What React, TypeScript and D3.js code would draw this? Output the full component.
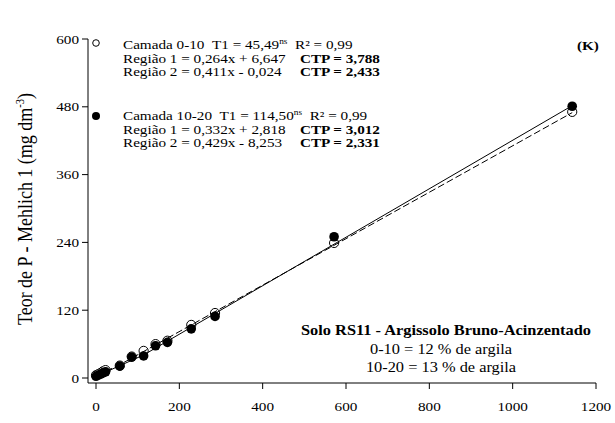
import React from "react";
import * as d3 from "d3";

// P doses (x) and Mehlich-1 P read back per layer
const doses = [0, 5.7, 11.4, 17.1, 22.9, 57.1, 85.7, 114.3, 142.9, 171.4, 228.6, 285.7, 571.4, 1142.9];
const layer0_10 = [5, 7, 9, 12, 14, 22, 38, 48, 60, 66, 94, 115, 239, 471];
const layer10_20 = [3, 5, 7, 9, 11, 21, 37, 39, 57, 63, 87, 109, 250, 481];

const xTicks = [0, 200, 400, 600, 800, 1000, 1200];
const yTicks = [0, 120, 240, 360, 480, 600];

// two-segment fits
const fit0_10 = { a1: 0.264, b1: 6.647, a2: 0.411, b2: -0.024, t1: 45.49 };
const fit10_20 = { a1: 0.332, b1: 2.818, a2: 0.429, b2: -8.253, t1: 114.5 };

const W = 615;
const H = 423;
const SX = 1.17; // glyphs in the original are a bit wide
const FONT = "'Liberation Serif', 'Times New Roman', serif";

const x = d3.scaleLinear().domain([0, 1200]).range([96, 596]);
const y = d3.scaleLinear().domain([0, 600]).range([378, 39]);

const segLine = (f: typeof fit0_10) => {
  const xmax = d3.max(doses) as number;
  const pts: [number, number][] = [0, f.t1, xmax].map((v) => [
    v,
    v <= f.t1 ? f.a1 * v + f.b1 : f.a2 * v + f.b2,
  ]);
  return d3
    .line<[number, number]>()
    .x((d) => x(d[0]))
    .y((d) => y(d[1]))(pts) as string;
};

const T = ({ x, y, size = 13, anchor = "start", bold = false, children }: any) => (
  <g transform={`translate(${x},${y}) scale(${SX},1)`}>
    <text fontSize={size} textAnchor={anchor} fontWeight={bold ? "bold" : "normal"} fontFamily={FONT} fill="#000">
      {children}
    </text>
  </g>
);

const Sup = ({ children }: any) => (
  <tspan fontSize={8} dy={-5}>
    {children}
  </tspan>
);

export default function App() {
  const axisX = 88;
  const axisY = 383;
  return (
    <svg width={W} height={H} style={{ display: "block", position: "absolute", left: 0, top: 0, background: "#fff" }}>
      {/* axes */}
      <line x1={axisX} x2={axisX} y1={y(600)} y2={axisY} stroke="#000" strokeWidth={1} />
      <line x1={axisX} x2={x(1200)} y1={axisY} y2={axisY} stroke="#000" strokeWidth={1} />
      {yTicks.map((t) => (
        <g key={"y" + t}>
          <line x1={axisX - 6} x2={axisX} y1={y(t)} y2={y(t)} stroke="#000" />
          <T x={79} y={y(t) + 4.5} anchor="end">
            {t}
          </T>
        </g>
      ))}
      {xTicks.map((t) => (
        <g key={"x" + t}>
          <line x1={x(t)} x2={x(t)} y1={axisY} y2={axisY + 6} stroke="#000" />
          <T x={x(t)} y={410.5} anchor="middle">
            {t}
          </T>
        </g>
      ))}

      {/* y label */}
      <g transform={`translate(32,209) scale(${SX},1) rotate(-90)`}>
        <text fontSize={18} textAnchor="middle" fontFamily={FONT} fill="#000">
          Teor de P - Mehlich 1 (mg dm
          <tspan fontSize={10.5} dy={-7}>-3</tspan>
          <tspan dy={7}>)</tspan>
        </text>
      </g>

      {/* points */}
      {doses.map((d, i) => (
        <circle key={"o" + i} cx={x(d)} cy={y(layer0_10[i])} r={4.6} fill="#fff" stroke="#000" strokeWidth={1} />
      ))}
      {doses.map((d, i) => (
        <circle key={"f" + i} cx={x(d)} cy={y(layer10_20[i])} r={4.8} fill="#000" />
      ))}

      {/* fitted lines */}
      <path d={segLine(fit0_10)} fill="none" stroke="#000" strokeWidth={1} strokeDasharray="7,3" />
      <path d={segLine(fit10_20)} fill="none" stroke="#000" strokeWidth={1} />

      {/* legend */}
      <circle cx={96} cy={43} r={3.3} fill="#fff" stroke="#000" strokeWidth={1} />
      <circle cx={96} cy={116} r={4} fill="#000" />

      <T x={123} y={49}>
        Camada 0-10{"\u00a0\u00a0"}T1 = 45,49<Sup>ns</Sup>
        <tspan dy={5}>{"\u00a0\u00a0"}R² = 0,99</tspan>
      </T>
      <T x={123} y={62.5}>Região 1 = 0,264x + 6,647</T>
      <T x={300} y={62.5} bold>CTP = 3,788</T>
      <T x={123} y={76}>Região 2 = 0,411x - 0,024</T>
      <T x={300} y={76} bold>CTP = 2,433</T>

      <T x={123} y={120}>
        Camada 10-20{"\u00a0\u00a0"}T1 = 114,50<Sup>ns</Sup>
        <tspan dy={5}>{"\u00a0\u00a0"}R² = 0,99</tspan>
      </T>
      <T x={123} y={133.5}>Região 1 = 0,332x + 2,818</T>
      <T x={300} y={133.5} bold>CTP = 3,012</T>
      <T x={123} y={147}>Região 2 = 0,429x - 8,253</T>
      <T x={300} y={147} bold>CTP = 2,331</T>

      <T x={577} y={50} bold>(K)</T>

      <T x={446} y={335} size={14} anchor="middle" bold>
        Solo RS11 - Argissolo Bruno-Acinzentado
      </T>
      <T x={441} y={353.5} size={14} anchor="middle">
        0-10 = 12 % de argila
      </T>
      <T x={441} y={372} size={14} anchor="middle">
        10-20 = 13 % de argila
      </T>
    </svg>
  );
}
